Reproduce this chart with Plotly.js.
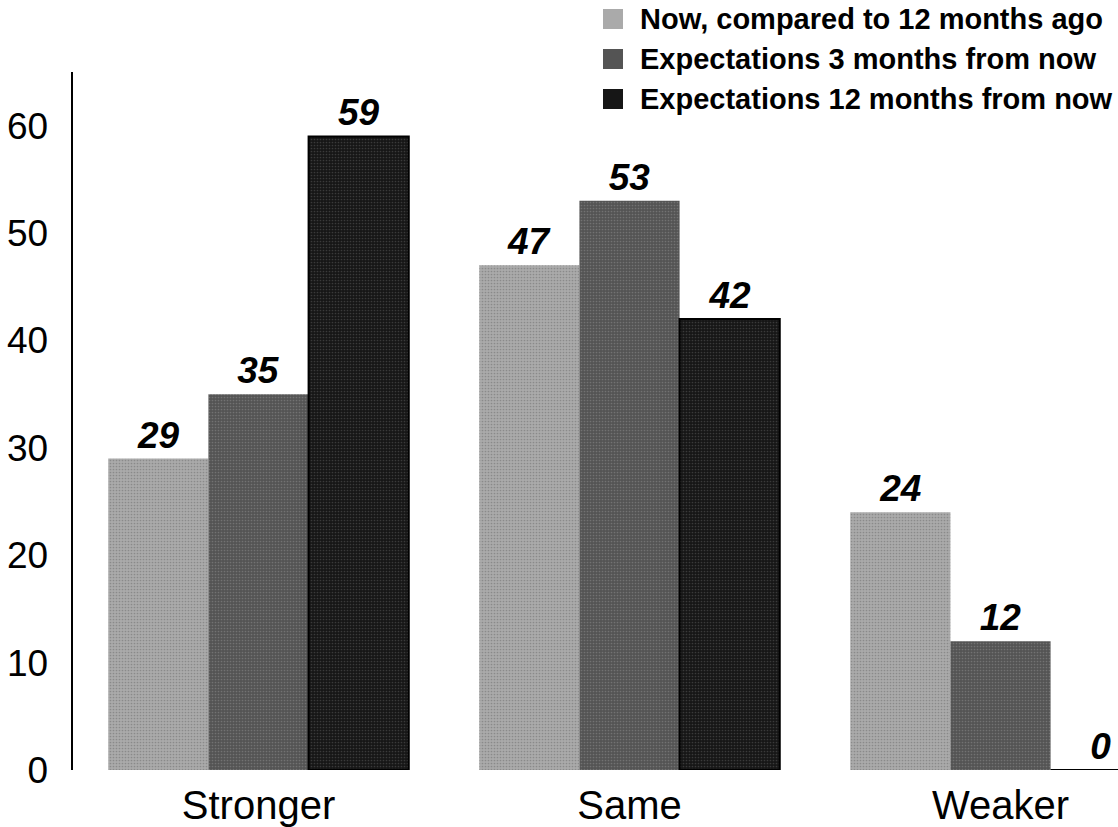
<!DOCTYPE html>
<html>
<head>
<meta charset="utf-8">
<script src="https://cdn.plot.ly/plotly-3.0.1.min.js"></script>
<style>
  html, body { margin: 0; padding: 0; background: #ffffff; }
  #chart { width: 1118px; height: 827px; }
</style>
</head>
<body>
<div id="chart"></div>
<script>
// Business conditions survey: share of answers per outlook
const categories = ["Stronger", "Same", "Weaker"];
const seriesNames = [
  "Now, compared to 12 months ago",
  "Expectations 3 months from now",
  "Expectations 12 months from now"
];
const nowVsYearAgo = [29, 47, 24];
const expect3Months = [35, 53, 12];
const expect12Months = [59, 42, 0];
const yTicks = [0, 10, 20, 30, 40, 50, 60];

const seriesValues = [nowVsYearAgo, expect3Months, expect12Months];
// base fill and speckle colour for each series
const seriesColors = ["#aaaaaa", "#545454", "#161616"];
const speckleColors = ["#8a8a8a", "#727272", "#3a3a3a"];

const FONT = "Liberation Sans, Arial, sans-serif";

const traces = seriesValues.map((vals, i) => ({
  type: "bar",
  name: seriesNames[i],
  x: categories,
  y: vals,
  marker: {
    color: seriesColors[i],
    pattern: {
      shape: ".",
      size: 3,
      solidity: 0.25,
      fgcolor: speckleColors[i],
      bgcolor: seriesColors[i],
      fillmode: "replace"
    },
    line: { color: "#000000", width: i === 2 ? 2 : 0 }
  },
  text: vals.map(v => String(v)),
  texttemplate: "<b><i>%{text}</i></b>",
  textposition: "outside",
  cliponaxis: false,
  textfont: { family: FONT, size: 37, color: "#000000" },
  showlegend: false,
  hoverinfo: "x+y+name"
}));

// Legend drawn as swatches + labels in the top-right corner
const shapes = [];
const annotations = [];
const legendRowsPx = [19, 59, 99];
const W = 1118, H = 827, ML = 73, MR = 0, MT = 72, MB = 57;
const pw = W - ML - MR, ph = H - MT - MB;
const px2x = px => (px - ML) / pw;
const py2y = py => (H - MB - py) / ph;
seriesNames.forEach((name, i) => {
  const cy = legendRowsPx[i];
  shapes.push({
    type: "rect", xref: "paper", yref: "paper",
    x0: px2x(603), x1: px2x(623), y0: py2y(cy + 10), y1: py2y(cy - 10),
    fillcolor: seriesColors[i], line: { width: 0 }
  });
  annotations.push({
    xref: "paper", yref: "paper",
    x: px2x(638), y: py2y(cy),
    xanchor: "left", yanchor: "middle",
    text: "<b>" + name + "</b>",
    showarrow: false,
    font: { family: FONT, size: 29, color: "#000000" }
  });
});

const layout = {
  width: W,
  height: H,
  margin: { l: ML, r: MR, t: MT, b: MB, pad: 0 },
  paper_bgcolor: "#ffffff",
  plot_bgcolor: "#ffffff",
  barmode: "group",
  bargap: 0.19,
  bargroupgap: 0,
  showlegend: false,
  font: { family: FONT, color: "#000000" },
  xaxis: {
    type: "category",
    range: [-0.5, (W - ML) / 371 - 0.5],
    showline: false,
    showgrid: false,
    zeroline: false,
    ticks: "",
    tickfont: { family: FONT, size: 40, color: "#000000" },
    ticklabelstandoff: 8,
    fixedrange: true
  },
  yaxis: {
    range: [0, 65],
    tickvals: yTicks,
    ticktext: yTicks.map(String),
    showline: true,
    linecolor: "#000000",
    linewidth: 2.5,
    showgrid: false,
    zeroline: false,
    ticks: "",
    tickfont: { family: FONT, size: 37, color: "#000000" },
    ticklabelstandoff: 15,
    fixedrange: true
  },
  shapes: shapes,
  annotations: annotations
};

Plotly.newPlot("chart", traces, layout, { displayModeBar: false, staticPlot: true });
</script>
</body>
</html>
